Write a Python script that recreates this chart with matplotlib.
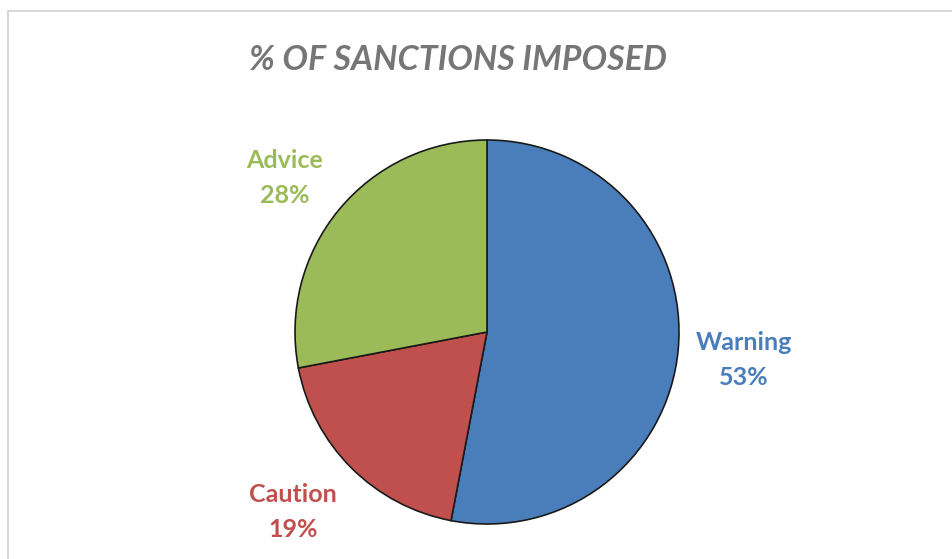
import matplotlib
matplotlib.use("Agg")
import matplotlib.pyplot as plt
from matplotlib.patches import Rectangle

categories = ["Warning", "Caution", "Advice"]
values = [53, 19, 28]
colors = ["#4A7EBB", "#C0504D", "#9BBB59"]
title = "% OF SANCTIONS IMPOSED"

W, H = 952, 559
fig = plt.figure(figsize=(W / 100, H / 100), dpi=100)
fig.patch.set_facecolor("white")

# outer chart border (clipped at right/bottom like the reference)
fig.patches.append(Rectangle((7.5 / W, -0.1), 1.2, 1 - 10.5 / H + 0.1,
                             transform=fig.transFigure, fill=False,
                             edgecolor="#D0D0D0", linewidth=1.2))

cx, cy, r = 487, 332, 192
ax = fig.add_axes([(cx - r) / W, 1 - (cy + r) / H, 2 * r / W, 2 * r / H])
wedges, _ = ax.pie(values, colors=colors, startangle=90, counterclock=False,
                   radius=1.0, wedgeprops=dict(edgecolor="#1a1a1a", linewidth=1.2))
ax.set_xlim(-1, 1)
ax.set_ylim(-1, 1)
ax.set_aspect("auto")
ax.axis("off")

label_pos = [(744, 360), (293, 512), (285, 178)]
for (x, y), name, v, c in zip(label_pos, categories, values, colors):
    fig.text(x / W, 1 - y / H, f"{name}\n{v}%", ha="center", va="center",
             fontsize=18, fontweight="bold", color=c, family=["Lato", "DejaVu Sans"],
             linespacing=1.65)

fig.text(458 / W, 1 - 60 / H, title, ha="center", va="center", fontsize=24.5,
         fontweight="bold", fontstyle="italic", color="#767676",
         family=["Lato", "DejaVu Sans"])

fig.savefig("out.png", dpi=100)
